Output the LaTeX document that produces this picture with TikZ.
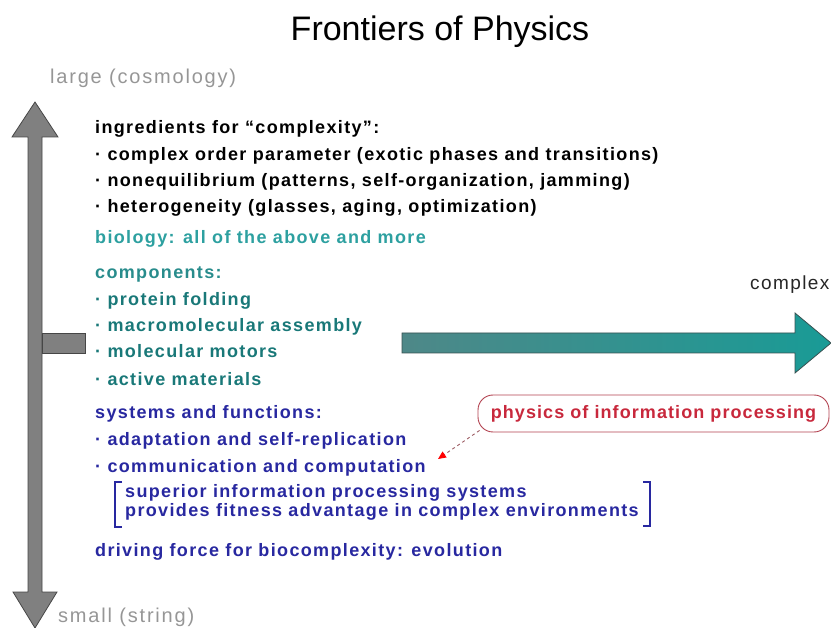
\documentclass[tikz,border=0pt]{standalone}
\usepackage{fontspec}
\setmainfont{Liberation Sans}
\newfontfamily\bodyfont[LetterSpace=7.5]{Liberation Sans}
\newfontfamily\boxfont[LetterSpace=6]{Liberation Sans}
\newfontfamily\axisfont[LetterSpace=9]{Liberation Sans}
\usetikzlibrary{arrows.meta}
\definecolor{axisgray}{RGB}{128,128,128}
\definecolor{axisedge}{RGB}{70,70,70}
\definecolor{labelgray}{RGB}{150,150,150}
\definecolor{tealL}{RGB}{45,160,160}
\definecolor{tealM}{RGB}{40,140,140}
\definecolor{tealD}{RGB}{25,120,120}
\definecolor{navy}{RGB}{40,40,160}
\definecolor{boxred}{RGB}{200,40,60}
\definecolor{arrowL}{RGB}{78,136,136}
\definecolor{arrowR}{RGB}{25,155,150}
\begin{document}
\begin{tikzpicture}[x=1pt,y=-1pt,
  txt/.style={anchor=base west, inner sep=0pt, font=\bodyfont\bfseries\fontsize{18}{20}\selectfont},
  axislabel/.style={anchor=base west, inner sep=0pt, text=labelgray, font=\axisfont\fontsize{20}{22}\selectfont},
  graybody/.style={fill=axisgray, draw=axisedge, line width=0.8pt},
  bracketline/.style={draw=navy, line width=1.1pt}]
\useasboundingbox (0,0) rectangle (831,628);

% title
\node[anchor=base, inner sep=0pt, font=\fontsize{34}{36}\selectfont] (title) at (440,41) {Frontiers of Physics};

% vertical double arrow
\path[graybody] (35,102) -- (58,137) -- (42,137) -- (42,592) -- (57,592) -- (35,628) -- (13,592) -- (28,592) -- (28,137) -- (12,137) -- cycle;
% stub
\path[graybody] (42,333) rectangle (85,353);

% teal arrow
\path[draw=axisedge!80!teal, line width=0.8pt, left color=arrowL, right color=arrowR]
  (402,333) -- (795,333) -- (795,313) -- (831,343) -- (795,373) -- (795,353) -- (402,353) -- cycle;

% axis labels
\node[axislabel] (large) at (50,84) {large (cosmology)};
\node[axislabel] (small) at (58,622) {small (string)};
\node[anchor=base west, inner sep=0pt, text=black!85, font=\bodyfont\fontsize{19}{21}\selectfont] (cplx) at (750,290) {complex};

% body text
\node[txt, text=black] (l1) at (95,134) {ingredients for “complexity”:};
\node[txt, text=black] (l2) at (95,161) {· complex order parameter (exotic phases and transitions)};
\node[txt, text=black] (l3) at (95,187) {· nonequilibrium (patterns, self-organization, jamming)};
\node[txt, text=black] (l4) at (95,213) {· heterogeneity (glasses, aging, optimization)};
\node[txt, text=tealL] (l5) at (95,244) {biology: all of the above and more};
\node[txt, text=tealM] (l6) at (95,279) {components:};
\node[txt, text=tealD] (l7) at (95,306) {· protein folding};
\node[txt, text=tealD] (l8) at (95,332) {· macromolecular assembly};
\node[txt, text=tealD] (l9) at (95,358) {· molecular motors};
\node[txt, text=tealD] (l10) at (95,386) {· active materials};
\node[txt, text=navy] (l11) at (95,419) {systems and functions:};
\node[txt, text=navy] (l12) at (95,446) {· adaptation and self-replication};
\node[txt, text=navy] (comm) at (95,473) {· communication and computation};
\node[txt, text=navy] (l14) at (125,498) {superior information processing systems};
\node[txt, text=navy] (l15) at (125,517) {provides fitness advantage in complex environments};
\node[txt, text=navy] (l16) at (95,557) {driving force for biocomplexity: evolution};

% brackets
\path[bracketline] (122,482) -- (115,482) -- (115,527) -- (122,527);
\path[bracketline] (643,482) -- (650,482) -- (650,526) -- (643,526);

% red box
\node[draw=boxred!70!gray, line width=0.9pt, rounded corners=15pt, minimum width=351pt, minimum height=37pt, inner sep=0pt,
  text=boxred, font=\boxfont\bfseries\fontsize{18}{20}\selectfont] (pbox) at (653.5,413.5) {physics of information processing};
\coordinate (tipend) at (438,459);
\draw[gray!60!boxred, dashed, line width=0.9pt, -{Triangle[length=8pt,width=7pt,fill=red,color=red]}] (pbox.south west) ++(2,-2) -- (tipend);
\end{tikzpicture}
\end{document}
